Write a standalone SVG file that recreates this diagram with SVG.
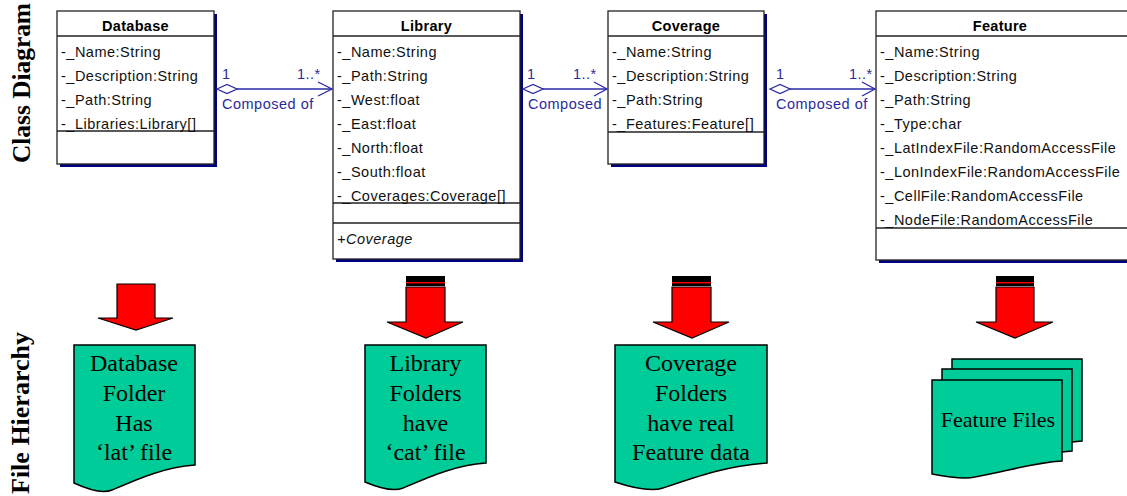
<svg xmlns="http://www.w3.org/2000/svg" width="1127" height="496" viewBox="0 0 1127 496">
<style>
.box{fill:#fff;stroke:#222;stroke-width:1.3}
.shadow{fill:#000080}
.sep{stroke:#222;stroke-width:1.3}
.hd{font-family:"Liberation Sans",Arial,sans-serif;font-size:14.5px;font-weight:bold;text-anchor:middle;fill:#000;letter-spacing:0.3px}
.at{font-family:"Liberation Sans",Arial,sans-serif;font-size:14.5px;fill:#111;letter-spacing:0.5px}
.op{font-family:"Liberation Sans",Arial,sans-serif;font-size:14.5px;font-style:italic;fill:#111;letter-spacing:0.5px}
.cl{font-family:"Liberation Sans",Arial,sans-serif;font-size:14.5px;fill:#2a2a9c;letter-spacing:0.5px}
.ln{stroke:#2a2aa8;stroke-width:1.3;fill:none}
.dia{stroke:#2a2aa8;stroke-width:1.3;fill:#fff}
.side{font-family:"Liberation Serif","Times New Roman",serif;font-size:25px;font-weight:bold;text-anchor:middle;fill:#000}
.red{fill:#ff0000;stroke:#000;stroke-width:1.2}
.doc{fill:#00cc99;stroke:#000;stroke-width:1.5}
.dt{font-family:"Liberation Serif","Times New Roman",serif;font-size:24px;text-anchor:middle;fill:#000}
</style>

<text class="side" transform="translate(30,83) rotate(-90)" textLength="160" lengthAdjust="spacingAndGlyphs">Class Diagram</text>
<text class="side" transform="translate(29,413) rotate(-90)" textLength="162" lengthAdjust="spacingAndGlyphs">File Hierarchy</text>

<g id="database">
<rect class="shadow" x="60" y="14" width="157" height="153"/>
<rect class="box" x="57" y="11" width="157" height="153"/>
<line class="sep" x1="57" y1="36" x2="214" y2="36"/>
<line class="sep" x1="57" y1="131" x2="214" y2="131"/>
<text class="hd" x="135.5" y="31">Database</text>
<text class="at" x="61" y="57">-_Name:String</text>
<text class="at" x="61" y="81">-_Description:String</text>
<text class="at" x="61" y="105">-_Path:String</text>
<text class="at" x="61" y="129">-_Libraries:Library[]</text>
</g>

<g id="library">
<rect class="shadow" x="336" y="14" width="187" height="248"/>
<rect class="box" x="333" y="11" width="187" height="248"/>
<line class="sep" x1="333" y1="36" x2="520" y2="36"/>
<line class="sep" x1="333" y1="203" x2="520" y2="203"/>
<line class="sep" x1="333" y1="223" x2="520" y2="223"/>
<text class="hd" x="426.5" y="31">Library</text>
<text class="at" x="337" y="57">-_Name:String</text>
<text class="at" x="337" y="81">-_Path:String</text>
<text class="at" x="337" y="105">-_West:float</text>
<text class="at" x="337" y="129">-_East:float</text>
<text class="at" x="337" y="153">-_North:float</text>
<text class="at" x="337" y="177">-_South:float</text>
<text class="at" x="337" y="201">-_Coverages:Coverage[]</text>
<text class="op" x="337" y="244">+Coverage</text>
</g>

<g id="coverage">
<rect class="shadow" x="611" y="14" width="156" height="153"/>
<rect class="box" x="608" y="11" width="156" height="153"/>
<line class="sep" x1="608" y1="36" x2="764" y2="36"/>
<line class="sep" x1="608" y1="132" x2="764" y2="132"/>
<text class="hd" x="686" y="31">Coverage</text>
<text class="at" x="612" y="57">-_Name:String</text>
<text class="at" x="612" y="81">-_Description:String</text>
<text class="at" x="612" y="105">-_Path:String</text>
<text class="at" x="612" y="129">-_Features:Feature[]</text>
</g>

<g id="feature">
<rect class="shadow" x="879" y="14" width="260" height="249"/>
<rect class="box" x="876" y="11" width="260" height="249"/>
<line class="sep" x1="876" y1="36" x2="1136" y2="36"/>
<line class="sep" x1="876" y1="228" x2="1136" y2="228"/>
<text class="hd" x="1000" y="31">Feature</text>
<text class="at" x="880" y="57">-_Name:String</text>
<text class="at" x="880" y="81">-_Description:String</text>
<text class="at" x="880" y="105">-_Path:String</text>
<text class="at" x="880" y="129">-_Type:char</text>
<text class="at" x="880" y="153">-_LatIndexFile:RandomAccessFile</text>
<text class="at" x="880" y="177">-_LonIndexFile:RandomAccessFile</text>
<text class="at" x="880" y="201">-_CellFile:RandomAccessFile</text>
<text class="at" x="880" y="225">-_NodeFile:RandomAccessFile</text>
</g>

<g id="connectors">
<line class="ln" x1="237" y1="89" x2="332" y2="89"/>
<polygon class="dia" points="217,89 227,84.5 237,89 227,93.5"/>
<polyline class="ln" points="318,82 332,89 318,96"/>
<text class="cl" x="222" y="79">1</text>
<text class="cl" x="297" y="79">1..*</text>
<text class="cl" x="222" y="109">Composed of</text>

<line class="ln" x1="543" y1="89" x2="607" y2="89"/>
<polygon class="dia" points="523,89 533,84.5 543,89 533,93.5"/>
<polyline class="ln" points="594,82 607,89 594,96"/>
<text class="cl" x="527" y="79">1</text>
<text class="cl" x="573" y="79">1..*</text>
<text class="cl" x="528" y="109">Composed</text>

<line class="ln" x1="790" y1="89" x2="875" y2="89"/>
<polygon class="dia" points="770,89 780,84.5 790,89 780,93.5"/>
<polyline class="ln" points="862,82 875,89 862,96"/>
<text class="cl" x="776" y="79">1</text>
<text class="cl" x="849" y="79">1..*</text>
<text class="cl" x="776" y="109">Composed of</text>

<polygon class="red" points="117,284 155,284 155,318 173,318 136,330 98,318 117,318"/>

<rect x="406" y="276" width="39" height="10" fill="#000"/>
<rect x="406" y="282" width="39" height="1.4" fill="#ff0000"/>
<polygon class="red" points="406,287 445,287 445,322 463,322 426,338 387,322 406,322"/>

<rect x="672" y="276" width="39" height="10" fill="#000"/>
<rect x="672" y="282" width="39" height="1.4" fill="#ff0000"/>
<polygon class="red" points="672,287 711,287 711,322 729,322 692,338 653,322 672,322"/>

<rect x="996" y="276" width="38" height="10" fill="#000"/>
<rect x="996" y="282" width="38" height="1.4" fill="#ff0000"/>
<polygon class="red" points="996,287 1034,287 1034,322 1053,322 1015,338 976,322 996,322"/>
</g>

<g id="db-folder">
<path class="doc" d="M74,345 H195 V465 C165,467 140,478 112,490 Q100,495 74,483 Z"/>
<text class="dt" x="134" y="371">Database</text>
<text class="dt" x="134" y="401">Folder</text>
<text class="dt" x="134" y="431">Has</text>
<text class="dt" x="134" y="460">‘lat’ file</text>
</g>

<g id="lib-folder">
<path class="doc" d="M365,345 H486 V463 C456,465 431,476 403,488 Q391,493 365,482 Z"/>
<text class="dt" x="425.5" y="371">Library</text>
<text class="dt" x="425.5" y="401">Folders</text>
<text class="dt" x="425.5" y="431">have</text>
<text class="dt" x="425.5" y="460">‘cat’ file</text>
</g>

<g id="cov-folder">
<path class="doc" d="M615,345 H767 V463 C730,465 698,476 663,488 Q648,493 615,482 Z"/>
<text class="dt" x="691" y="371">Coverage</text>
<text class="dt" x="691" y="401">Folders</text>
<text class="dt" x="691" y="431">have real</text>
<text class="dt" x="691" y="460">Feature data</text>
</g>

<g id="feature-files">
<path class="doc" d="M952,359 H1082 V441 C1050,443 1025,452 995,462 Q983,466 952,455 Z"/>
<path class="doc" d="M942,369 H1072 V451 C1040,453 1015,462 985,472 Q973,476 942,465 Z"/>
<path class="doc" d="M932,380 H1062 V461 C1030,463 1005,472 975,477 Q963,480 932,474 Z"/>
<text class="dt" x="998" y="427" style="font-size:22px">Feature Files</text>
</g>
</svg>
